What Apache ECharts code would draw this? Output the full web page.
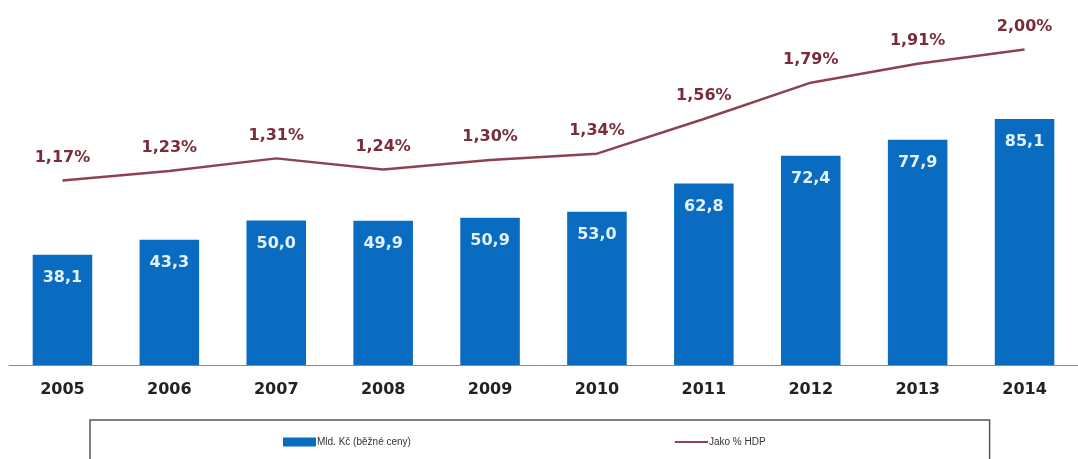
<!DOCTYPE html>
<html>
<head>
<meta charset="utf-8">
<script src="https://cdn.jsdelivr.net/npm/echarts@6/dist/echarts.min.js"></script>
<style>
  html, body { margin: 0; padding: 0; background: #ffffff; }
  #chart { width: 1078px; height: 459px; }
</style>
</head>
<body>
<div id="chart"></div>
<script>
// Roky
const years = ['2005', '2006', '2007', '2008', '2009', '2010', '2011', '2012', '2013', '2014'];
// Výdaje v mld. Kč (běžné ceny)
const spending = [38.1, 43.3, 50.0, 49.9, 50.9, 53.0, 62.8, 72.4, 77.9, 85.1];
// Výdaje jako % HDP
const shareOfGdp = [1.17, 1.23, 1.31, 1.24, 1.30, 1.34, 1.56, 1.79, 1.91, 2.00];

const barName = 'Mld. Kč (běžné ceny)';
const lineName = 'Jako % HDP';

const fmtComma = (v, digits) => v.toFixed(digits).replace('.', ',');

const chart = echarts.init(document.getElementById('chart'), null, { renderer: 'canvas' });

chart.setOption({
  animation: false,
  backgroundColor: '#ffffff',
  grid: { left: 9, right: -9, top: 18, bottom: 94, containLabel: false },
  legend: {
    left: 90,
    top: 420,
    borderColor: '#555555',
    borderWidth: 1.5,
    padding: [17, 224, 30, 193],
    itemGap: 264,
    itemWidth: 33,
    itemHeight: 9,
    textStyle: { fontFamily: 'Liberation Sans', fontSize: 10, color: '#333333', padding: [0, 0, 0, -4] },
    data: [
      { name: barName, icon: 'rect' },
      { name: lineName, icon: 'path://M0,0M33,9M0,3.5L33,3.5L33,5.5L0,5.5Z' }
    ]
  },
  xAxis: {
    type: 'category',
    data: years,
    axisLine: { lineStyle: { color: '#8a8a8a', width: 1 } },
    axisTick: { show: false },
    axisLabel: {
      margin: 17,
      fontFamily: 'DejaVu Sans',
      fontWeight: 'bold',
      fontSize: 16,
      color: '#222222'
    }
  },
  yAxis: [
    { type: 'value', min: 0, max: 120, show: false, splitLine: { show: false } },
    { type: 'value', min: 0, max: 2.2, show: false, splitLine: { show: false } }
  ],
  series: [
    {
      name: barName,
      type: 'bar',
      yAxisIndex: 0,
      data: spending,
      barWidth: '55.7%',
      itemStyle: { color: '#0a6cc0' },
      label: {
        show: true,
        position: 'insideTop',
        distance: 15,
        fontFamily: 'DejaVu Sans',
        fontWeight: 'bold',
        fontSize: 16,
        color: '#e2f2ff',
        formatter: p => fmtComma(p.value, 1)
      }
    },
    {
      name: lineName,
      type: 'line',
      yAxisIndex: 1,
      data: shareOfGdp,
      symbol: 'circle',
      symbolSize: 0,
      showSymbol: true,
      smooth: false,
      lineStyle: { color: '#8e4250', width: 2.5 },
      itemStyle: { color: '#8e4250' },
      label: {
        show: true,
        position: 'top',
        distance: 15,
        fontFamily: 'DejaVu Sans',
        fontWeight: 'bold',
        fontSize: 16,
        color: '#7a2c38',
        formatter: p => fmtComma(p.value, 2) + '%'
      }
    }
  ]
});
</script>
</body>
</html>
